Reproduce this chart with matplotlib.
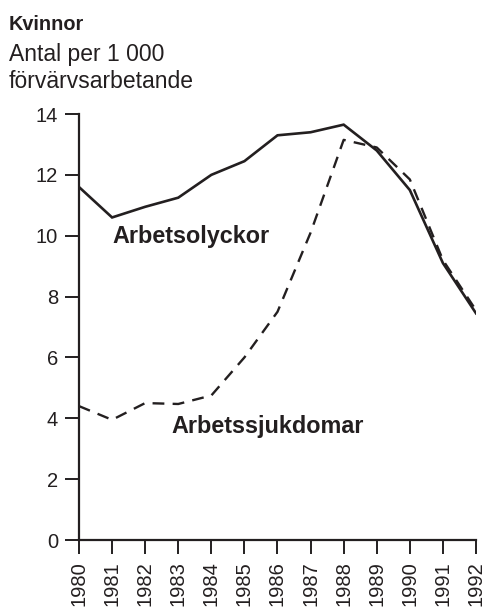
import matplotlib
matplotlib.use("Agg")
import matplotlib.pyplot as plt

years = [1980, 1981, 1982, 1983, 1984, 1985, 1986, 1987, 1988, 1989, 1990, 1991, 1992]
olyckor = [11.6, 10.6, 10.95, 11.25, 12.0, 12.45, 13.3, 13.4, 13.65, 12.8, 11.5, 9.1, 7.45]
sjukdomar = [4.4, 3.95, 4.5, 4.47, 4.75, 6.0, 7.5, 10.1, 13.15, 12.9, 11.85, 9.2, 7.55]
yticks = [0, 2, 4, 6, 8, 10, 12, 14]

ink = "#231f20"
plt.rcParams['font.family'] = ['Liberation Sans', 'DejaVu Sans']

fig = plt.figure(figsize=(4.92, 6.12), dpi=100)
ax = fig.add_axes([79 / 492, 1 - 540 / 612, (476 - 79) / 492, (540 - 114) / 612])

ax.plot(years, olyckor, color=ink, lw=1.9, solid_joinstyle='miter')
ax.plot(years, sjukdomar, color=ink, lw=1.7, linestyle=(0, (5, 3.5)))

ax.set_xlim(1980, 1992)
ax.set_ylim(0, 14)
ax.set_xticks(years)
ax.set_xticklabels([str(y) for y in years], rotation=90, fontsize=14.5, color=ink)
ax.set_yticks(yticks)
ax.set_yticklabels([str(v) for v in yticks], fontsize=14.5, color=ink)
ax.tick_params(axis='both', direction='out', length=10, width=1.4, color=ink, pad=5)

for s in ['top', 'right']:
    ax.spines[s].set_visible(False)
for s in ['left', 'bottom']:
    ax.spines[s].set_color(ink)
    ax.spines[s].set_linewidth(1.6)
    ax.spines[s].set_capstyle('projecting')
ax.patch.set_alpha(0)

ax.text(1981.0, 9.76, "Arbetsolyckor", fontsize=16.8, fontweight='bold', color=ink, va='baseline')
ax.text(1982.8, 3.52, "Arbetssjukdomar", fontsize=16.8, fontweight='bold', color=ink, va='baseline')

fig.text(9 / 492, 1 - 30 / 612, "Kvinnor", fontsize=14.3, fontweight='bold', color=ink, va='baseline')
fig.text(9 / 492, 1 - 61 / 612, "Antal per 1 000", fontsize=16.5, color=ink, va='baseline')
fig.text(9 / 492, 1 - 88 / 612, "förvärvsarbetande", fontsize=16.5, color=ink, va='baseline')

fig.savefig("out.png", dpi=100)
